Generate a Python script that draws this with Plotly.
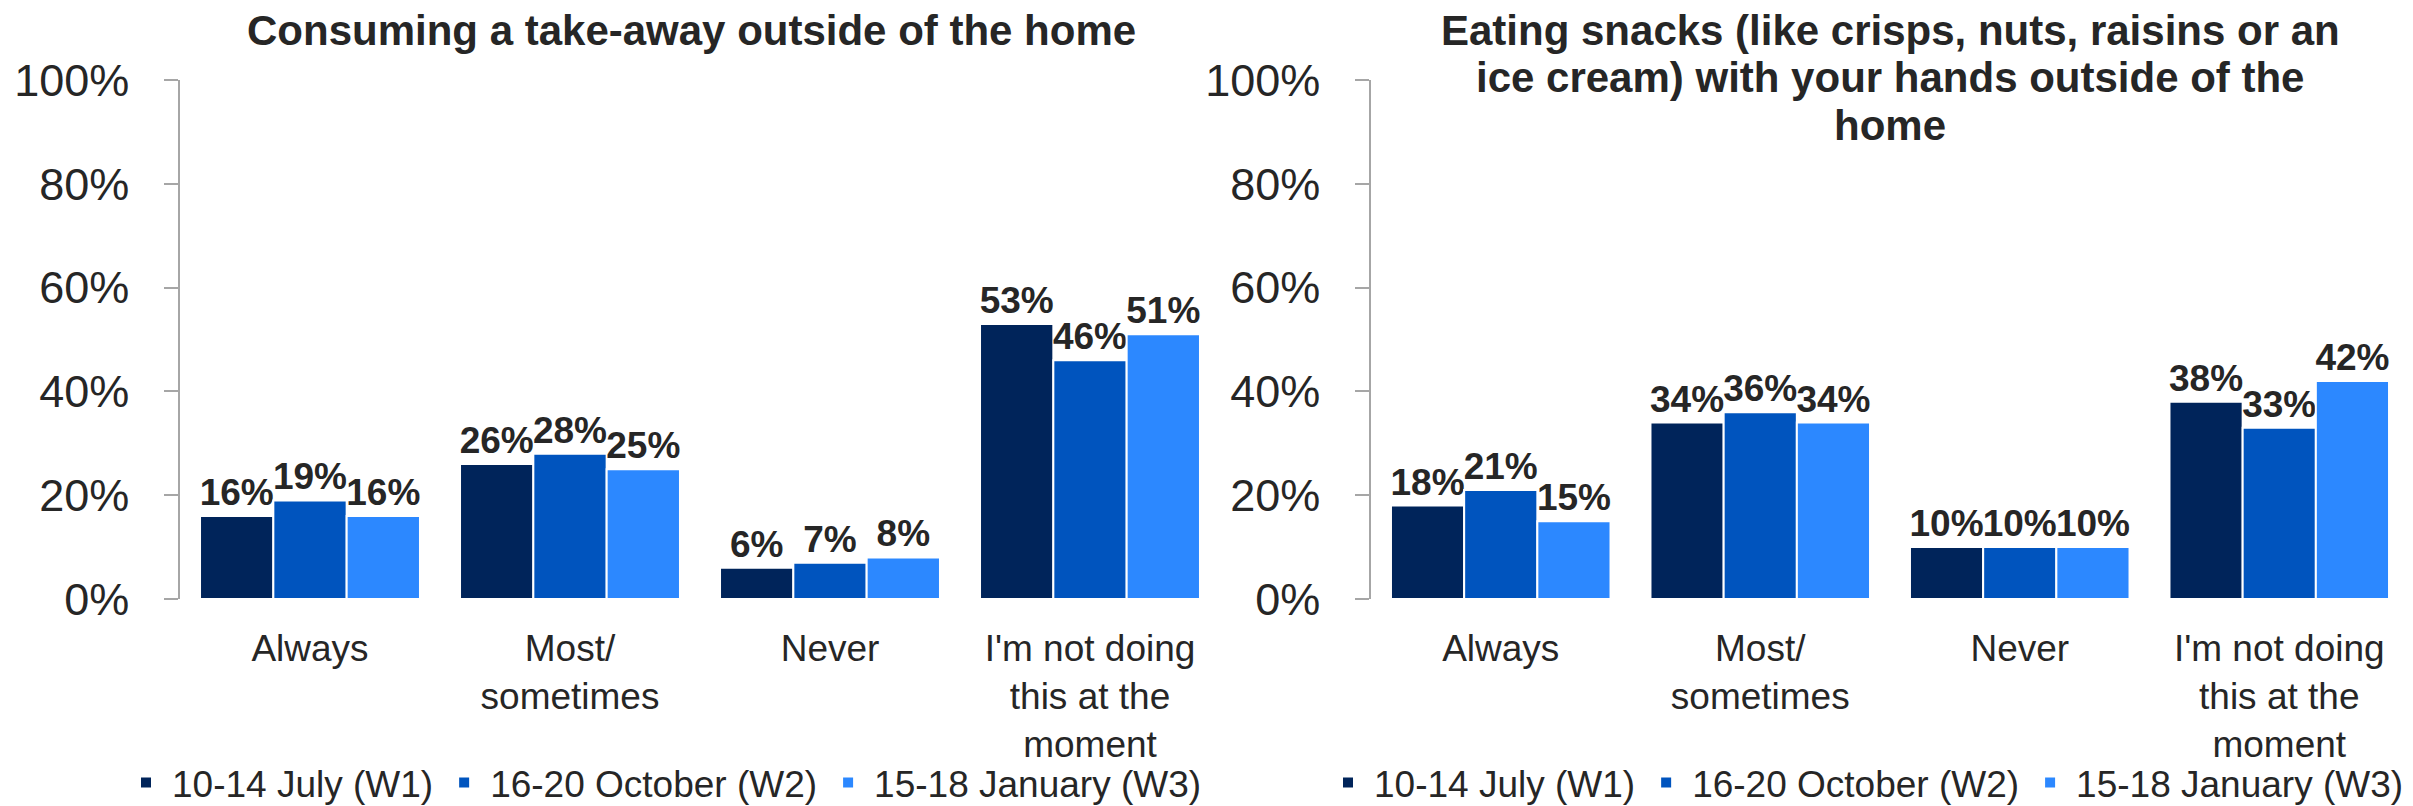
import plotly.graph_objects as go

categories = ["Always", "Most/<br>sometimes", "Never", "I'm not doing<br>this at the<br>moment"]
series_names = ["10-14 July (W1)", "16-20 October (W2)", "15-18 January (W3)"]
colors = ["#00245A", "#0054BE", "#2C88FF"]

takeaway_w1 = [16, 26, 6, 53]
takeaway_w2 = [19, 28, 7, 46]
takeaway_w3 = [16, 25, 8, 51]

snacks_w1 = [18, 34, 10, 38]
snacks_w2 = [21, 36, 10, 33]
snacks_w3 = [15, 34, 10, 42]

title_left = "Consuming a take-away outside of the home"
title_right_lines = [
    "Eating snacks (like crisps, nuts, raisins or an",
    "ice cream) with your hands outside of the",
    "home",
]

W, H = 2413, 806
FONT = "Liberation Sans, Arial, sans-serif"
TXT = "#262626"
AXC = "#A6A6A6"
PLOT_TOP, PLOT_BOTTOM = 72, 599
PH = PLOT_BOTTOM - PLOT_TOP


def py(pixel_y):
    return (PLOT_BOTTOM - pixel_y) / PH


fig = go.Figure()

left = [takeaway_w1, takeaway_w2, takeaway_w3]
right = [snacks_w1, snacks_w2, snacks_w3]

for panel, (data, xa, ya, lg) in enumerate([(left, "x", "y", "legend"), (right, "x2", "y2", "legend2")]):
    for i, vals in enumerate(data):
        fig.add_trace(go.Bar(
            x=categories, y=vals, name=series_names[i], xaxis=xa, yaxis=ya,
            marker=dict(color=colors[i], line=dict(color="white", width=2)),
            texttemplate="%{y}", textposition="outside", constraintext="none",
            cliponaxis=False,
            textfont=dict(family=FONT, size=37, color=TXT, weight="bold"),
            legend=lg,
        ))

xcommon = dict(showline=False, ticks="", showgrid=False, zeroline=False,
               tickfont=dict(family=FONT, size=37, color=TXT),
               ticklabelstandoff=24, tickangle=0)
ycommon = dict(range=[0, 100], dtick=20, ticksuffix="%", showline=True,
               linecolor=AXC, linewidth=1.5, ticks="outside", ticklen=14,
               tickcolor=AXC, tickwidth=1.5, showgrid=False, zeroline=False,
               tickfont=dict(family=FONT, size=45, color=TXT),
               ticklabelstandoff=26)

annotations = [
    dict(text=title_left, xref="paper", yref="paper", x=683 / W, y=py(-4),
         xanchor="center", yanchor="top", showarrow=False,
         font=dict(family=FONT, size=42, color=TXT, weight="bold")),
]
for k, line in enumerate(title_right_lines):
    annotations.append(dict(
        text=line, xref="paper", yref="paper", x=1882 / W, y=py(-4 + 48 * k),
        xanchor="center", yanchor="top", showarrow=False,
        font=dict(family=FONT, size=42, color=TXT, weight="bold")))

legend_common = dict(orientation="h", xanchor="left", y=py(786), yanchor="middle",
                     itemwidth=42,
                     font=dict(family=FONT, size=37, color=TXT), bgcolor="rgba(0,0,0,0)")

fig.update_layout(
    width=W, height=H,
    margin=dict(l=0, r=0, t=PLOT_TOP, b=H - PLOT_BOTTOM),
    paper_bgcolor="white", plot_bgcolor="white",
    barmode="group", bargap=0.154, bargroupgap=0,
    font=dict(family=FONT, color=TXT),
    xaxis=dict(domain=[172 / W, 1212 / W], anchor="y", **xcommon),
    yaxis=dict(domain=[0, 1], anchor="x", **ycommon),
    xaxis2=dict(domain=[1363 / W, 2401 / W], anchor="y2", **xcommon),
    yaxis2=dict(domain=[0, 1], anchor="x2", **ycommon),
    legend=dict(x=112 / W, **legend_common),
    legend2=dict(x=1314 / W, **legend_common),
    annotations=annotations,
)

fig.write_html("out.html")
